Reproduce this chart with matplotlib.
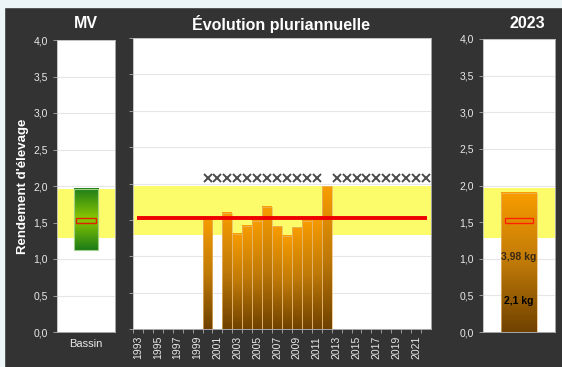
import numpy as np
import matplotlib.pyplot as plt
from matplotlib.colors import LinearSegmentedColormap
from matplotlib.patches import Rectangle

plt.rcParams['font.family'] = ['Liberation Sans', 'DejaVu Sans']

# data
years = list(range(1993, 2023))
rendement = [None] * 7 + [1.53, None, 1.60, 1.31, 1.42, 1.49, 1.68, 1.41, 1.28,
                          1.40, 1.49, 1.54, 1.96] + [None] * 10
marked_years = list(range(2000, 2012)) + list(range(2013, 2023))
moyenne = 1.52
band_low, band_high = 1.29, 1.96
bassin_low, bassin_high = 1.12, 1.96
bassin_mean = 1.53
annee_val = 1.90
annee_mean = 1.525
label_haut = '3,98 kg'
label_bas = '2,1 kg'

BG = '#333333'
TXT = '#e8e8e8'
YELLOW = '#fcfc6a'
GRID = '#e6e6e6'

orange_cm = LinearSegmentedColormap.from_list('o', ['#704200', '#c07a08', '#f89c00'])
green_cm = LinearSegmentedColormap.from_list('g', ['#1c7c18', '#8cc800', '#1e7e18'])
grad = np.linspace(0, 1, 100).reshape(-1, 1)

fig = plt.figure(figsize=(5.62, 3.67), dpi=100, facecolor=BG)
fig.patches.append(Rectangle((0, 1 - 7 / 367), 1, 7 / 367, transform=fig.transFigure,
                             color='#eef5f7', zorder=0))
fig.patches.append(Rectangle((0, 0), 4 / 562, 1, transform=fig.transFigure,
                             color='#eef5f7', zorder=0))

ax1 = fig.add_axes([57 / 562, 35 / 367, 58 / 562, 292 / 367])
ax2 = fig.add_axes([133 / 562, 38 / 367, 298 / 562, 291 / 367])
ax3 = fig.add_axes([483 / 562, 35 / 367, 72 / 562, 293 / 367])


def style(ax, labels=True):
    ax.set_facecolor('white')
    ax.set_ylim(0, 4)
    ax.set_yticks(np.arange(0, 4.01, 0.5))
    if labels:
        ax.set_yticklabels([f'{v:.1f}'.replace('.', ',') for v in np.arange(0, 4.01, 0.5)])
    else:
        ax.set_yticklabels([])
    ax.grid(axis='y', color=GRID, lw=0.8, zorder=0)
    ax.set_axisbelow(True)
    for s in ax.spines.values():
        s.set_color('#bbbbbb')
        s.set_linewidth(0.6)
    ax.tick_params(colors='#aaaaaa', labelcolor=TXT, labelsize=7.5, length=3, width=0.6)
    ax.axhspan(band_low, band_high, color=YELLOW, zorder=1, lw=0)


# left panel: bassin
style(ax1)
ax1.imshow(grad, cmap=green_cm, aspect='auto',
           extent=[0.29, 0.71, bassin_low, bassin_high], zorder=2, origin='lower')
ax1.add_patch(Rectangle((0.29, bassin_low), 0.42, bassin_high - bassin_low, fill=False,
                        ec='#9fd08a', lw=0.8, zorder=3))
ax1.add_patch(Rectangle((0.33, bassin_mean - 0.035), 0.34, 0.07, fill=False,
                        ec='#e02000', lw=1.0, zorder=4))
ax1.set_xlim(0, 1)
ax1.set_ylim(0, 4)
ax1.set_xticks([0.5])
ax1.set_xticklabels(['Bassin'], fontsize=8)
ax1.tick_params(axis='x', length=0, pad=5)
ax1.set_ylabel("Rendement d'élevage", color='white', fontsize=9.5, fontweight='bold', labelpad=3)

# middle panel: evolution
style(ax2, labels=False)
for i, v in enumerate(rendement):
    if v is None:
        continue
    ax2.imshow(grad, cmap=orange_cm, aspect='auto', origin='lower',
               extent=[i - 0.5, i + 0.5, 0, v], zorder=2)
    ax2.add_patch(Rectangle((i - 0.5, 0), 1, v, fill=False, ec='#e8b870', lw=0.5, zorder=3))
ax2.hlines(moyenne, -0.1, len(years) - 0.9, color='#ee0000', lw=2.8, zorder=5)
mx = [years.index(y) for y in marked_years]
ax2.plot(mx, [2.07] * len(mx), ls='none', marker='x', color='#4a4a4a', ms=5.5, mew=1.4, zorder=5)
ax2.set_xlim(-0.5, len(years) - 0.5)
ax2.set_ylim(0, 4)
ax2.set_xticks(np.arange(len(years)) - 0.5, minor=False)
ax2.set_xticklabels([])
ax2.set_xticks(np.arange(0, len(years), 2), minor=True)
ax2.set_xticklabels([str(y) for y in years[::2]], minor=True, rotation=90, fontsize=7.5)
ax2.tick_params(axis='x', which='minor', length=0, labelcolor=TXT, pad=5)
ax2.tick_params(axis='x', which='major', length=3)

# right panel: 2023
style(ax3)
ax3.imshow(grad, cmap=orange_cm, aspect='auto', origin='lower',
           extent=[0.25, 0.75, 0, annee_val], zorder=2)
ax3.add_patch(Rectangle((0.25, 0), 0.5, annee_val, fill=False, ec='#e8b870', lw=0.5, zorder=3))
ax3.add_patch(Rectangle((0.31, annee_mean - 0.035), 0.38, 0.07, fill=False,
                        ec='#ff2200', lw=1.0, zorder=4))
ax3.text(0.5, 1.02, label_haut, ha='center', va='center', fontsize=7.5,
         fontweight='bold', color='#3a2a12', zorder=5)
ax3.text(0.5, 0.42, label_bas, ha='center', va='center', fontsize=7.5,
         fontweight='bold', color='black', zorder=5)
ax3.set_xlim(0, 1)
ax3.set_ylim(0, 4)
ax3.set_xticks([])

fig.text(86 / 562, 1 - 24 / 367, 'MV', color='white', fontsize=11.5, fontweight='bold',
         ha='center', va='center')
fig.text(281 / 562, 1 - 24 / 367, 'Évolution pluriannuelle', color='white', fontsize=11.5,
         fontweight='bold', ha='center', va='center')
fig.text(527 / 562, 1 - 23 / 367, '2023', color='white', fontsize=11.5, fontweight='bold',
         ha='center', va='center')

fig.savefig('out.png', dpi=100, facecolor=fig.get_facecolor())
